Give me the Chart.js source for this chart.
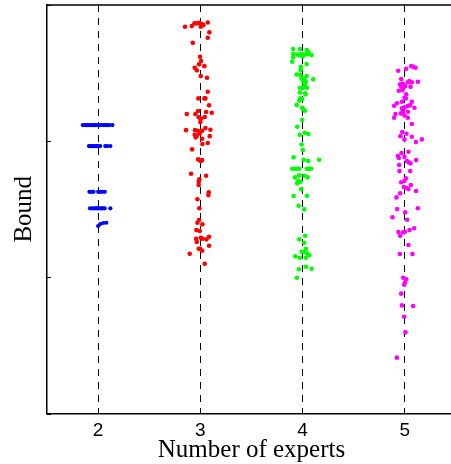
<!DOCTYPE html>
<html>
<head>
<meta charset="utf-8">
<style>
  html, body { margin: 0; padding: 0; background: #fff; overflow: hidden; }
  canvas { display: block; }
</style>
<script src="https://cdn.jsdelivr.net/npm/chart.js@4/dist/chart.umd.min.js"></script>
</head>
<body>
<canvas id="c" width="460" height="464"></canvas>
<script>
// Categories (number of experts) and tick labels
const categories = [2, 3, 4, 5];
const xTickLabels = ['2', '3', '4', '5'];
const yTickValues = [0, 1, 2, 3];

// Jittered x positions and bound values
const x2 = [1.85,1.87,1.885,1.90,1.92,1.94,1.955,1.97,1.99,2.01,2.03,2.05,2.07,2.09,2.11,2.14,
            1.91,1.925,1.94,1.95,1.965,1.98,1.99,2.00,2.02,2.07,2.09,2.12,
            1.915,1.935,1.955,2.00,2.02,2.04,2.065,
            1.92,1.94,1.96,1.975,1.99,2.00,2.02,2.035,2.05,2.065,2.12,
            2.00,2.02,2.05,2.08];
const y2 = [2.118,2.118,2.118,2.118,2.118,2.118,2.118,2.118,2.118,2.118,2.118,2.118,2.118,2.118,2.118,2.118,
            1.964,1.964,1.964,1.964,1.964,1.964,1.964,1.964,1.964,1.964,1.964,1.964,
            1.628,1.628,1.628,1.628,1.628,1.628,1.628,
            1.507,1.507,1.507,1.507,1.507,1.507,1.507,1.507,1.507,1.507,1.507,
            1.377,1.391,1.399,1.401];

const x3 = [2.850,2.916,2.941,2.965,2.990,3.014,3.004,3.029,3.072,3.088,3.072,2.926,2.997,3.007,2.987,3.039,
            2.945,2.965,3.004,3.065,3.072,2.980,3.039,3.049,3.085,2.867,2.951,2.978,3.056,3.111,2.984,3.007,
            3.043,3.000,2.860,2.948,2.975,3.017,3.049,3.098,2.945,2.965,2.955,2.994,3.092,3.017,3.020,3.072,
            2.919,2.978,3.017,3.004,2.909,3.056,2.990,2.984,2.984,3.082,3.078,2.971,2.990,2.987,3.020,2.971,
            2.961,2.994,2.958,3.004,3.023,3.059,3.085,2.965,3.085,2.997,2.984,3.017,2.896,3.043];
const y3 = [2.840,2.845,2.865,2.865,2.869,2.860,2.840,2.852,2.872,2.799,2.759,2.722,2.620,2.588,2.564,2.551,
            2.539,2.520,2.478,2.466,2.363,2.314,2.314,2.314,2.263,2.199,2.199,2.221,2.214,2.209,2.175,2.167,
            2.177,2.140,2.081,2.081,2.076,2.076,2.096,2.084,2.047,2.040,2.028,2.057,2.037,2.018,1.979,1.986,
            1.940,1.866,1.861,1.854,1.761,1.746,1.720,1.702,1.678,1.624,1.604,1.573,1.507,1.421,1.389,1.401,
            1.347,1.340,1.283,1.291,1.283,1.279,1.298,1.259,1.232,1.210,1.210,1.195,1.173,1.100];

const x4 = [3.908,3.974,4.039,4.055,3.908,3.947,3.967,3.990,4.016,4.039,4.062,4.088,3.908,4.000,3.898,4.039,
            3.983,3.980,3.941,3.980,4.039,3.990,4.016,4.104,4.006,4.032,4.022,3.974,4.010,4.042,3.974,4.025,
            4.029,3.977,3.996,3.967,3.941,3.996,4.006,4.022,3.996,3.947,4.022,4.055,3.971,3.990,4.003,3.912,
            4.010,4.055,4.162,3.898,3.922,3.944,3.967,4.042,4.065,4.084,4.020,3.925,3.967,4.049,3.957,3.980,
            3.947,3.986,3.912,4.042,3.961,4.016,4.025,3.967,4.016,4.032,3.990,4.010,4.042,3.928,3.971,4.032,
            4.065,4.032,4.088,3.964,3.944];
const y4 = [2.676,2.676,2.669,2.656,2.640,2.637,2.632,2.640,2.634,2.640,2.640,2.632,2.615,2.620,2.583,2.566,
            2.546,2.522,2.490,2.485,2.478,2.461,2.454,2.454,2.436,2.436,2.419,2.392,2.395,2.392,2.358,2.351,
            2.344,2.314,2.309,2.297,2.265,2.245,2.236,2.223,2.155,2.106,2.062,2.052,2.047,1.976,1.935,1.881,
            1.863,1.854,1.863,1.797,1.797,1.797,1.797,1.797,1.797,1.797,1.746,1.734,1.749,1.734,1.709,1.702,
            1.690,1.646,1.597,1.599,1.526,1.499,1.305,1.279,1.254,1.210,1.188,1.186,1.176,1.154,1.144,1.144,
            1.162,1.078,1.063,1.059,0.997];

const x5 = [5.062,5.084,5.104,5.013,4.935,4.964,5.045,5.068,5.127,5.029,4.954,4.977,5.055,4.964,4.986,5.003,
            4.977,4.941,5.013,4.996,5.010,4.971,5.068,4.922,4.895,5.052,5.029,4.996,4.971,5.094,5.029,4.980,
            4.961,4.908,4.996,4.895,5.029,5.068,4.974,5.016,4.957,5.068,4.996,5.108,5.166,5.035,4.967,4.932,
            4.996,4.941,5.020,5.039,5.055,5.110,4.944,4.947,5.052,5.010,4.996,4.964,5.059,4.990,5.013,5.035,
            5.110,4.954,4.918,4.925,5.127,5.003,4.879,5.022,5.091,5.045,5.000,4.983,4.937,4.954,5.035,4.951,
            5.074,4.983,5.013,5.000,4.993,4.964,4.971,5.081,4.993,5.006,4.922];
const y5 = [2.551,2.546,2.539,2.532,2.517,2.456,2.441,2.432,2.436,2.432,2.417,2.424,2.399,2.399,2.392,2.405,
            2.375,2.370,2.344,2.319,2.314,2.289,2.289,2.278,2.260,2.265,2.258,2.248,2.241,2.245,2.216,2.216,
            2.204,2.199,2.189,2.172,2.172,2.126,2.067,2.054,2.037,2.032,2.013,1.993,2.013,1.922,1.913,1.891,
            1.885,1.876,1.854,1.844,1.837,1.861,1.825,1.780,1.780,1.727,1.707,1.698,1.678,1.663,1.658,1.648,
            1.634,1.617,1.587,1.501,1.507,1.477,1.441,1.423,1.360,1.347,1.335,1.330,1.333,1.305,1.237,1.171,
            1.171,0.997,0.985,0.960,0.946,0.880,0.794,0.789,0.711,0.596,0.410];

const seriesColors = ['#0000ff', '#ff0000', '#00ff00', '#ff00ff'];

function pts(xs, ys) { return xs.map((x, i) => ({ x: x, y: ys[i] })); }
const groups = [[x2, y2], [x3, y3], [x4, y4], [x5, y5]];

const datasets = groups.map((g, i) => ({
  label: String(categories[i]),
  data: pts(g[0], g[1]),
  backgroundColor: seriesColors[i],
  borderColor: seriesColors[i],
  borderWidth: 0,
  pointRadius: i === 0 ? 2.1 : 2.3,
  pointHoverRadius: i === 0 ? 2.1 : 2.3
}));

const boxPlugin = {
  id: 'box',
  afterDraw(chart) {
    const { ctx, chartArea: { left, right, top, bottom }, scales: { y } } = chart;
    ctx.save();
    ctx.strokeStyle = '#000';
    ctx.lineWidth = 1.5;
    ctx.beginPath();
    ctx.moveTo(left, top); ctx.lineTo(right, top);
    ctx.moveTo(right, top); ctx.lineTo(right, bottom);
    ctx.stroke();
    ctx.lineWidth = 1;
    ctx.beginPath();
    y.ticks.forEach(t => {
      const py = Math.round(y.getPixelForValue(t.value)) + 0.5;
      ctx.moveTo(left, py); ctx.lineTo(left + 4, py);
    });
    ctx.stroke();
    ctx.restore();
  }
};

new Chart(document.getElementById('c'), {
  type: 'scatter',
  data: { datasets: datasets },
  options: {
    responsive: false,
    animation: false,
    events: [],
    layout: { padding: { top: 5, right: 4, left: 0, bottom: 0 } },
    plugins: { legend: { display: false }, tooltip: { enabled: false } },
    scales: {
      x: {
        type: 'linear',
        min: 1.5, max: 5.5,
        afterBuildTicks(s) { s.ticks = categories.map(v => ({ value: v })); },
        afterFit(s) { s.height = 50.5; },
        ticks: {
          padding: 6,
          color: '#000',
          autoSkip: false,
          maxRotation: 0,
          font: { family: '"Liberation Sans", Arial, sans-serif', size: 19 },
          callback: (v) => { const i = categories.indexOf(v); return i >= 0 ? xTickLabels[i] : ''; }
        },
        grid: { display: true, color: '#000', lineWidth: 1, drawTicks: false },
        border: { display: true, color: '#000', width: 1.5, dash: [7, 6] },
        title: {
          display: true,
          text: 'Number of experts',
          color: '#000',
          font: { family: '"Liberation Serif", "Times New Roman", serif', size: 25, lineHeight: 1 },
          padding: { top: 0, bottom: 1.5 }
        }
      },
      y: {
        type: 'linear',
        min: 0, max: 3,
        afterBuildTicks(s) { s.ticks = yTickValues.map(v => ({ value: v })); },
        afterFit(s) { s.width = 47; },
        ticks: { display: false },
        grid: { display: false },
        border: { display: true, color: '#000', width: 1.5 },
        title: {
          display: true,
          text: 'Bound',
          color: '#000',
          font: { family: '"Liberation Serif", "Times New Roman", serif', size: 25, lineHeight: 1 },
          padding: { top: 12, bottom: 0 }
        }
      }
    }
  },
  plugins: [boxPlugin]
});
</script>
</body>
</html>
